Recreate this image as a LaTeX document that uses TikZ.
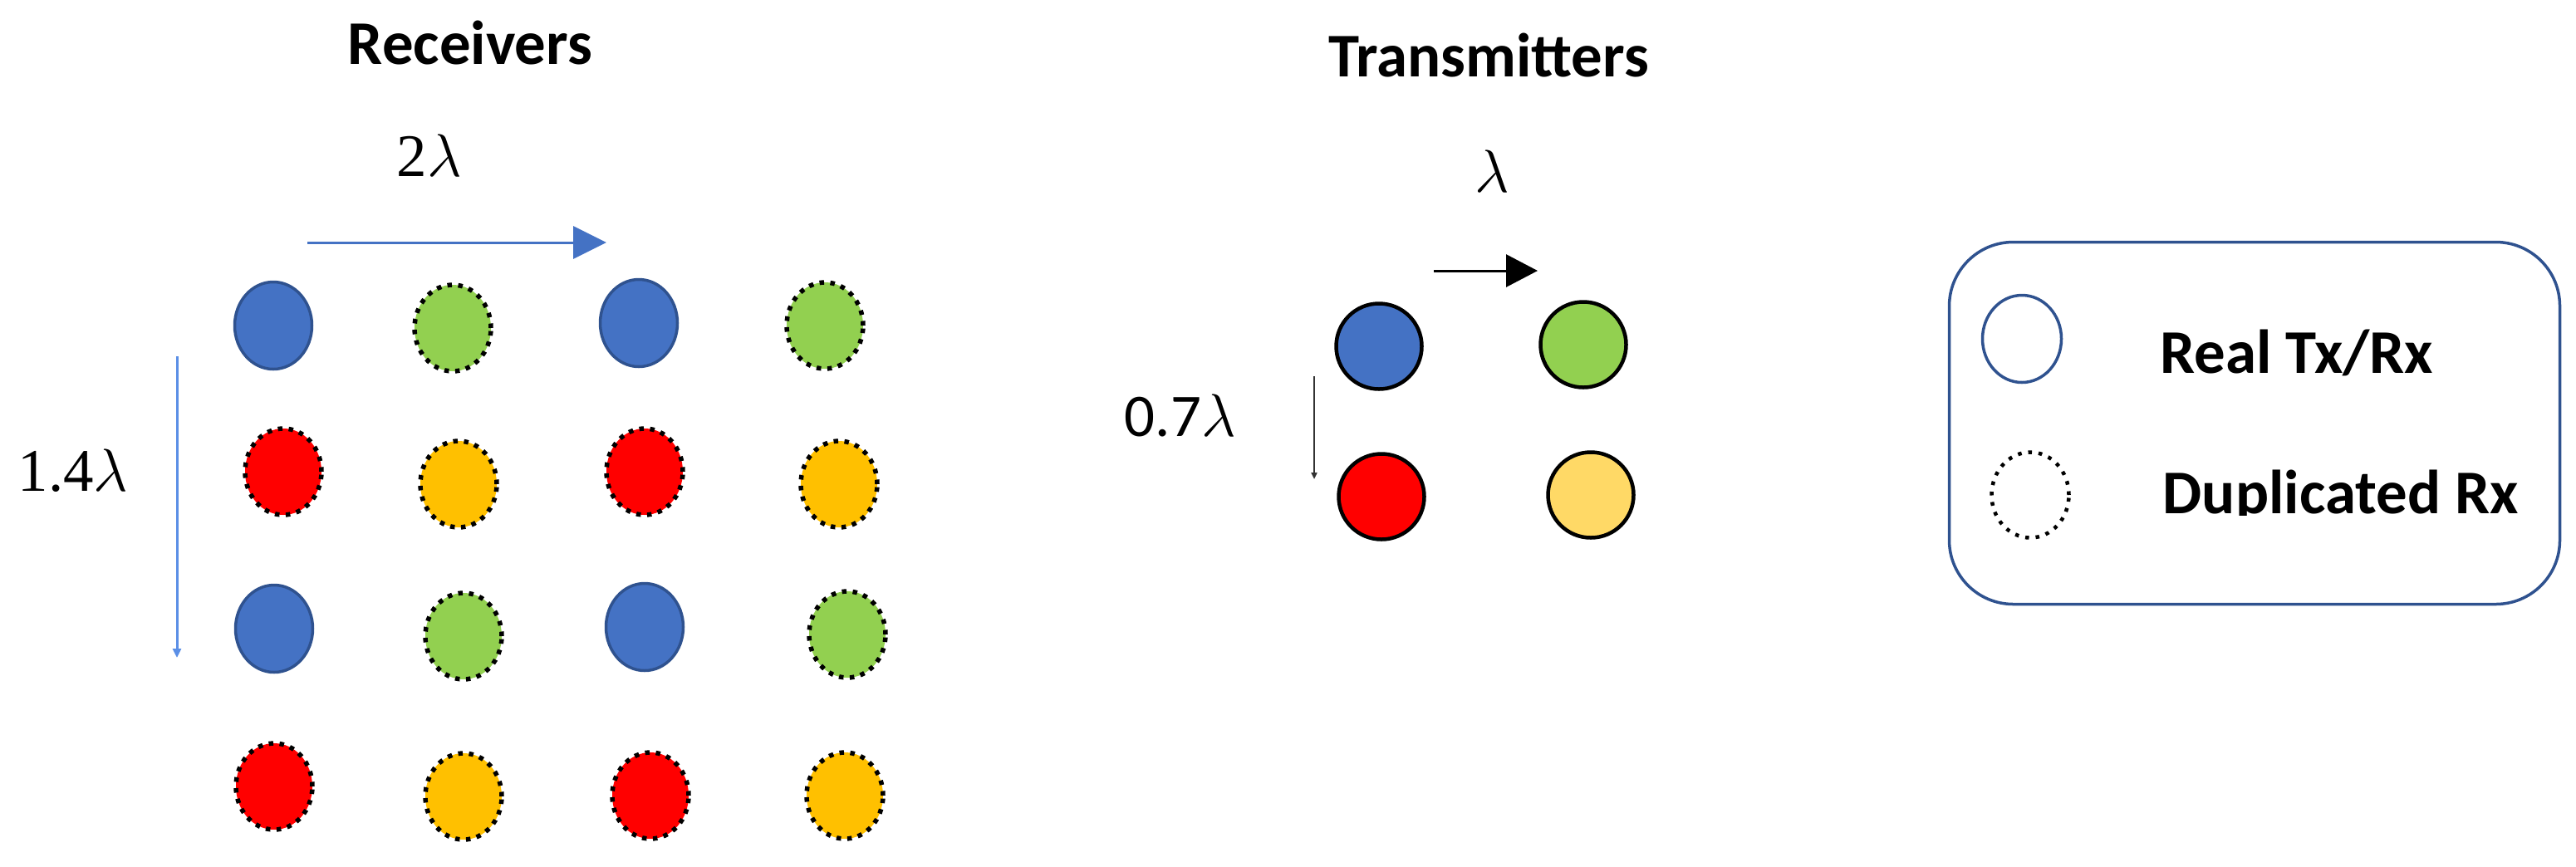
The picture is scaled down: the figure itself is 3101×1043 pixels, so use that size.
\documentclass[tikz,border=0pt]{standalone}
\usepackage{fontspec}
\setmainfont{Carlito}
\newfontfamily\serifnum{Liberation Serif}
\usetikzlibrary{arrows.meta,positioning,shapes.geometric}

\definecolor{rxblue}{HTML}{4472C4}
\definecolor{rxedge}{HTML}{2F528F}
\definecolor{rxgreen}{HTML}{92D050}
\definecolor{rxred}{HTML}{FF0000}
\definecolor{rxgold}{HTML}{FFC000}
\definecolor{txyellow}{HTML}{FFD966}
\definecolor{dimblue}{HTML}{5B8FE6}

\tikzset{
  rxreal/.style={ellipse, draw=rxedge, fill=rxblue, line width=0.35mm,
                 minimum width=9.3mm, minimum height=10.5mm, inner sep=0pt},
  rxdup/.style={ellipse, draw=black, fill=#1, line width=0.55mm,
                dash pattern=on 0.55mm off 0.75mm,
                minimum width=9.2mm, minimum height=10.4mm, inner sep=0pt},
  tx/.style={circle, draw=black, fill=#1, line width=0.45mm,
             minimum size=10.3mm, inner sep=0pt},
  heading/.style={font=\fontsize{21.3}{25}\selectfont\bfseries, inner sep=0pt},
  dimlabel/.style={font=\fontsize{20.74}{24}\selectfont, inner sep=0pt},
}

\begin{document}
\begin{tikzpicture}[x=0.1mm, y=-0.1mm]
\useasboundingbox (0,0) rectangle (3101,1043);

% titles
\node[heading, anchor=base] (rxtitle) at (566,77) {Receivers};
\node[heading, anchor=base] (txtitle) at (1792,92) {Transmitters};

% receiver grid (real and duplicated)
\node[rxreal]        (r11) at (329,392) {};
\node[rxdup=rxgreen] (r12) at (545,395) {};
\node[rxreal]        (r13) at (769,389) {};
\node[rxdup=rxgreen] (r14) at (993,392) {};

\node[rxdup=rxred]   (r21) at (341,568) {};
\node[rxdup=rxgold]  (r22) at (552,583) {};
\node[rxdup=rxred]   (r23) at (776,568) {};
\node[rxdup=rxgold]  (r24) at (1010,583) {};

\node[rxreal]        (r31) at (330,757) {};
\node[rxdup=rxgreen] (r32) at (558,766) {};
\node[rxreal]        (r33) at (776,755) {};
\node[rxdup=rxgreen] (r34) at (1020,764) {};

\node[rxdup=rxred]   (r41) at (330,947) {};
\node[rxdup=rxgold]  (r42) at (558,959) {};
\node[rxdup=rxred]   (r43) at (783,958) {};
\node[rxdup=rxgold]  (r44) at (1017,958) {};

% receiver spacing
\coordinate (rxh0) at (370,292);
\coordinate (rxh1) at (730,292);
\coordinate (rxv0) at (213,429);
\coordinate (rxv1) at (213,792);
\draw[rxblue, line width=0.3mm, -{Triangle[length=4mm, width=3.9mm]}] (rxh0) -- (rxh1);
\draw[dimblue, line width=0.3mm, -{Triangle[length=1.1mm, width=1mm]}] (rxv0) -- (rxv1);
\node[dimlabel, anchor=base] (rxdx) at (517,212) {{\serifnum 2}$\lambda$};
\node[dimlabel, anchor=base west] (rxdy) at (21,591) {{\serifnum 1.4}$\lambda$};

% transmitters
\node[tx=rxblue]   (tb) at (1660,417) {};
\node[tx=rxgreen]  (tg) at (1906,415) {};
\node[tx=rxred]    (tr) at (1663,598) {};
\node[tx=txyellow] (ty) at (1915,596) {};

% transmitter spacing
\coordinate (txh0) at (1726,326);
\coordinate (txh1) at (1851,326);
\coordinate (txv0) at (1582,453);
\coordinate (txv1) at (1582,577);
\draw[black, line width=0.3mm, -{Triangle[length=3.8mm, width=3.9mm]}] (txh0) -- (txh1);
\draw[black!80, line width=0.2mm, -{Triangle[length=0.8mm, width=0.7mm]}] (txv0) -- (txv1);
\node[dimlabel, anchor=base] (txdx) at (1796,231) {$\lambda$};
\node[dimlabel, anchor=base west] (txdy) at (1353,525) {0.7$\lambda$};

% legend
\node[draw=rxedge, line width=0.35mm, rounded corners=7.7mm,
      minimum width=73.5mm, minimum height=43.6mm] (legend) at (2714,509.5) {};
\node[ellipse, draw=rxedge, line width=0.35mm, minimum width=9.5mm,
      minimum height=10.5mm, inner sep=0pt] (lreal) at (2434,408) {};
\node[ellipse, draw=black, line width=0.45mm, dash pattern=on 0.45mm off 0.8mm,
      minimum width=9.3mm, minimum height=10.3mm, inner sep=0pt] (ldup) at (2444,596) {};
\node[heading, anchor=base west] (lrealtext) at (2600,449) {Real Tx/Rx};
\begin{scope}
\clip (2590,540) rectangle (3070,620);
\node[heading, anchor=base west] (lduptext) at (2603,618) {Duplicated Rx};
\end{scope}

\end{tikzpicture}
\end{document}
